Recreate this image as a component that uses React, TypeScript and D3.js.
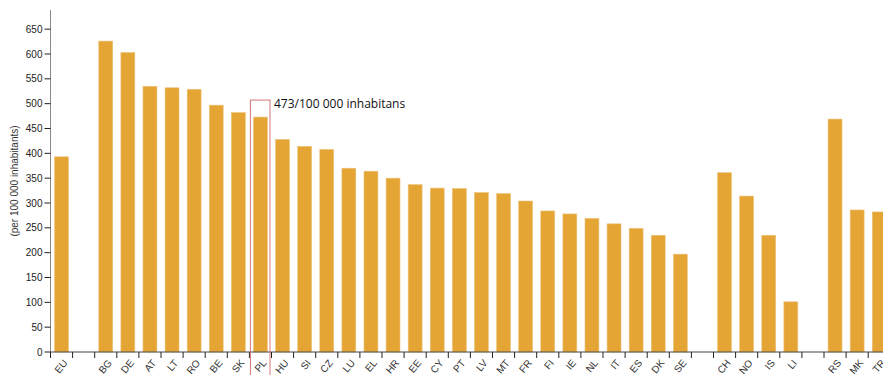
import React, { useEffect, useRef } from "react";
import * as d3 from "d3";

const categories = ["EU", "_g1", "BG", "DE", "AT", "LT", "RO", "BE", "SK", "PL", "HU", "SI", "CZ", "LU", "EL", "HR", "EE", "CY", "PT", "LV", "MT", "FR", "FI", "IE", "NL", "IT", "ES", "DK", "SE", "_g2", "CH", "NO", "IS", "LI", "_g3", "RS", "MK", "TR"];
const values: (number | null)[] = [393, null, 626, 603, 535, 532, 529, 497, 482, 473, 428, 414, 408, 370, 364, 350, 337, 330, 329, 321, 319, 304, 284, 278, 269, 258, 249, 235, 197, null, 361, 314, 235, 101, null, 469, 286, 282];
const yTicks = [0, 50, 100, 150, 200, 250, 300, 350, 400, 450, 500, 550, 600, 650];
const yTitle = "(per 100 000 inhabitants)";
const highlight = "PL";
const annotation = "473/100 000 inhabitans";

export default function App() {
  const ref = useRef<SVGSVGElement>(null);
  useEffect(() => {
    const svg = d3.select(ref.current);
    svg.selectAll("*").remove();
    const left = 50.5, top = 10, bottom = 352;
    const step = 22.1;
    const x = d3.scaleBand<string>().domain(categories).range([left, left + step * categories.length]).paddingInner(0.37).paddingOuter(0.185);
    const maxV = d3.max(values.filter((v) => v != null) as number[]) as number;
    const y = d3.scaleLinear().domain([0, maxV * 1.1]).range([bottom, top]);
    const font = "'Liberation Sans', Arial, sans-serif";

    const data = categories.map((c, i) => ({ c, v: values[i] }));
    svg.append("g").selectAll("rect").data(data.filter((d) => d.v != null)).join("rect")
      .attr("x", (d) => x(d.c)!)
      .attr("width", x.bandwidth())
      .attr("y", (d) => y(d.v as number))
      .attr("height", (d) => bottom - y(d.v as number))
      .attr("fill", "#E4A535")
      .attr("stroke", "#EDC27A")
      .attr("stroke-width", 0.6);

    // y axis
    const ya = svg.append("g");
    ya.append("line").attr("x1", left).attr("x2", left).attr("y1", top).attr("y2", bottom).attr("stroke", "#888");
    yTicks.forEach((t) => {
      ya.append("line").attr("x1", left - 6).attr("x2", left).attr("y1", y(t)).attr("y2", y(t)).attr("stroke", "#222");
      ya.append("text").attr("x", left - 8).attr("y", y(t)).attr("dy", "0.35em").attr("text-anchor", "end")
        .attr("font-family", font).attr("font-size", 10).attr("fill", "#222").text(String(t));
    });
    ya.append("text").attr("transform", `translate(14,${(top + bottom) / 2}) rotate(-90)`)
      .attr("text-anchor", "middle").attr("dy", "0.35em")
      .attr("font-family", font).attr("font-size", 10).attr("fill", "#333").text(yTitle);

    // x axis
    const xa = svg.append("g");
    const stepW = x.step();
    xa.append("line").attr("x1", left).attr("x2", left + stepW * categories.length + 20).attr("y1", bottom).attr("y2", bottom).attr("stroke", "#444");
    categories.forEach((c) => {
      const bs = x(c)! - (stepW - x.bandwidth()) / 2;
      xa.append("line").attr("x1", bs).attr("x2", bs).attr("y1", bottom).attr("y2", bottom + 6).attr("stroke", "#222");
      if (!c.startsWith("_")) {
        const cx = x(c)! + x.bandwidth() / 2 + 4;
        xa.append("text").attr("transform", `translate(${cx},${bottom + 9}) rotate(-50)`)
          .attr("text-anchor", "end").attr("dy", "0.35em")
          .attr("font-family", font).attr("font-size", 10).attr("fill", "#333").text(c);
      }
    });

    // annotation
    const hv = values[categories.indexOf(highlight)] as number;
    const bs = x(highlight)! - (stepW - x.bandwidth()) / 2;
    svg.append("rect").attr("x", bs + 1).attr("width", stepW - 2.5)
      .attr("y", y(hv) - 17).attr("height", 400)
      .attr("fill", "none").attr("stroke", "#D2767A").attr("stroke-width", 1);
    svg.append("text").attr("x", bs + stepW + 2.5).attr("y", y(hv) - 9)
      .attr("font-family", "'Open Sans', sans-serif").attr("font-size", 12).attr("fill", "#111").text(annotation);
  }, []);
  return (
    <div style={{ position: "absolute", left: 0, top: 0, width: 883, height: 375, overflow: "hidden", background: "#fff" }}>
      <svg ref={ref} width={920} height={375} style={{ display: "block" }} />
    </div>
  );
}
